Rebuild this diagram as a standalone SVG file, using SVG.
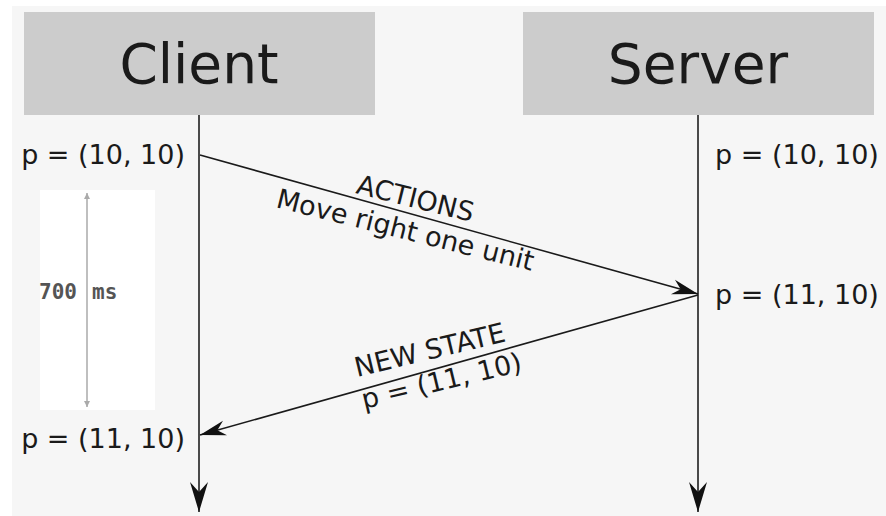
<svg xmlns="http://www.w3.org/2000/svg" width="886" height="516" viewBox="0 0 886 516">
  <style>
    .box { fill: #cccccc; }
    .title { font-family: "DejaVu Sans", sans-serif; font-size: 55px; fill: #1a1a1a; text-anchor: middle; }
    .lbl { font-family: "DejaVu Sans", sans-serif; font-size: 27px; fill: #1a1a1a; }
    .life { stroke: #4a4a4a; stroke-width: 2; fill: none; }
    .msg { stroke: #1a1a1a; stroke-width: 1.6; fill: none; }
    .ms { font-family: "DejaVu Sans Mono", monospace; font-weight: bold; font-size: 21px; fill: #555555; word-spacing: 2.5px; }
  </style>
  <defs>
    <marker id="lifeHead" viewBox="-31 -10 32 20" refX="0" refY="0" markerUnits="userSpaceOnUse" markerWidth="32" markerHeight="20" orient="auto">
      <path d="M0,0 L-30,-9 L-20,0 L-30,9 Z" fill="#111111"/>
    </marker>
    <marker id="msgHead" viewBox="-27 -8 28 16" refX="0" refY="0" markerUnits="userSpaceOnUse" markerWidth="28" markerHeight="16" orient="auto">
      <path d="M0,0 L-26,-7.5 L-18,0 L-26,7.5 Z" fill="#111111"/>
    </marker>
    <marker id="grayHead" viewBox="-7 -4 8 8" refX="0" refY="0" markerUnits="userSpaceOnUse" markerWidth="8" markerHeight="8" orient="auto">
      <path d="M0,0 L-6,-3 L-6,3 Z" fill="#aaaaaa"/>
    </marker>
  </defs>

  <rect x="0" y="0" width="886" height="516" fill="#ffffff"/>
  <rect x="12" y="6" width="874" height="510" fill="#f6f6f6"/>

  <g id="client">
    <rect class="box" x="24" y="12" width="351" height="103"/>
    <text class="title" x="199" y="83">Client</text>
  </g>

  <g id="server">
    <rect class="box" x="523" y="12" width="351" height="103"/>
    <text class="title" x="698" y="83">Server</text>
  </g>

  <g id="timing">
    <rect x="40" y="190" width="115" height="220" fill="#ffffff"/>
    <line x1="87" y1="300" x2="87" y2="193" stroke="#aaaaaa" stroke-width="1.5" marker-end="url(#grayHead)"/>
    <line x1="87" y1="300" x2="87" y2="407" stroke="#aaaaaa" stroke-width="1.5" marker-end="url(#grayHead)"/>
    <text class="ms" x="39" y="299" xml:space="preserve">700 ms</text>
  </g>

  <g id="client-states">
    <text class="lbl" x="185" y="164" text-anchor="end">p = (10, 10)</text>
    <text class="lbl" x="185" y="448" text-anchor="end">p = (11, 10)</text>
  </g>

  <g id="server-states">
    <text class="lbl" x="715" y="164">p = (10, 10)</text>
    <text class="lbl" x="715" y="304">p = (11, 10)</text>
  </g>

  <g id="connectors">
    <line class="life" x1="199" y1="115" x2="199" y2="512" marker-end="url(#lifeHead)"/>
    <line class="life" x1="698" y1="115" x2="698" y2="512" marker-end="url(#lifeHead)"/>
    <line class="msg" x1="200" y1="155" x2="698" y2="294" marker-end="url(#msgHead)"/>
    <line class="msg" x1="698" y1="295" x2="200" y2="435" marker-end="url(#msgHead)"/>
  </g>

  <g id="msg-labels">
    <text class="lbl" transform="translate(355,193) rotate(14)">ACTIONS</text>
    <text class="lbl" transform="translate(275,207) rotate(14)">Move right one unit</text>
    <text class="lbl" transform="translate(357,377) rotate(-13.5)">NEW STATE</text>
    <text class="lbl" transform="translate(364,409) rotate(-13.5)">p = (11, 10)</text>
  </g>
</svg>
